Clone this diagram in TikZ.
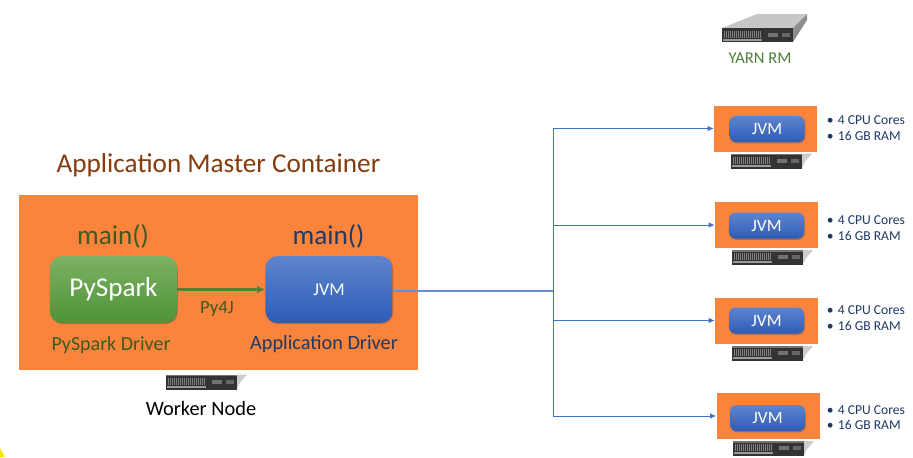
\documentclass[tikz,border=0pt]{standalone}
\usepackage{fontspec}
\setmainfont{Carlito}
\usetikzlibrary{shadows,arrows.meta}
\definecolor{orangebg}{HTML}{FB843C}
\definecolor{titlebrown}{HTML}{843C0C}
\definecolor{darkgreen}{HTML}{3F5A20}
\definecolor{midgreen}{HTML}{548235}
\definecolor{yarngreen}{HTML}{4E8038}
\definecolor{navy}{HTML}{1F3864}
\definecolor{linkblue}{HTML}{4472C4}
\definecolor{gtop}{HTML}{7CB163}
\definecolor{gbot}{HTML}{4F9338}
\definecolor{btop}{HTML}{5F84CE}
\definecolor{bbot}{HTML}{2D5CB6}
\newcommand{\pxfont}[1]{\fontsize{#1}{#1}\selectfont}
\tikzset{
  x=0.75pt,y=-0.75pt,
  bigbox/.style={rounded corners=9pt,minimum width=95.5pt,minimum height=50pt,inner sep=0pt,text=white,
     drop shadow={shadow xshift=0.5pt,shadow yshift=-1pt,opacity=0.4,fill=black!70}},
  greenbox/.style={bigbox,top color=gtop,bottom color=gbot},
  bluebox/.style={bigbox,top color=btop,bottom color=bbot},
  smallbox/.style={rounded corners=5pt,minimum width=56.5pt,minimum height=19.5pt,inner sep=0pt,text=white,
     top color=btop,bottom color=bbot,
     drop shadow={shadow xshift=0.5pt,shadow yshift=-1pt,opacity=0.4,fill=black!70},
     font=\pxfont{13}},
  lbl/.style={inner sep=0pt,anchor=center},
  specs/.style={inner sep=0pt,anchor=west,text=navy,font=\pxfont{10.2},align=left},
  link/.style={draw=linkblue,line width=0.7pt,-{Latex[length=4.5pt,width=4pt]}},
  srvfront/.style={fill=black!80,draw=none},
}
\newcommand{\srvdetail}[2]{%
  \foreach \i in {2,4,...,38}{\draw[black!50,line width=0.3pt] (#1+\i,#2+3) -- (#1+\i,#2+10);}
  \fill[black!40] (#1+1,#2+11) rectangle (#1+40,#2+13);
  \fill[black!55] (#1+46,#2+5) rectangle (#1+56,#2+9);
  \fill[black!60] (#1+60,#2+5) rectangle (#1+68,#2+9);
}
\newcommand{\srvlow}[2]{%
  \fill[black!20] (#1+71,#2) -- (#1+81,#2) -- (#1+74,#2+8) -- (#1+71,#2+14) -- cycle;
  \fill[black!55] (#1,#2) rectangle (#1+71,#2+1.5);
  \fill[srvfront] (#1,#2+1.5) rectangle (#1+71,#2+15);
  \srvdetail{#1}{#2}
}
\begin{document}
\begin{tikzpicture}
\useasboundingbox (0,0) rectangle (913,457);
\fill[white] (0,0) rectangle (913,457);
% corner mark
\fill[yellow!85!orange] (0,448) -- (5,457) -- (0,457) -- cycle;

% YARN RM server
\fill[black!22] (722,28) -- (757,14) -- (807,14) -- (793,28) -- cycle;
\fill[black!45] (793,28) -- (807,14) -- (807,20) -- (793,42) -- cycle;
\fill[srvfront] (722,28) rectangle (793,42);
\srvdetail{722}{28}
\node[lbl,text=yarngreen,font=\pxfont{12.4}] (yarn) at (760,58) {YARN RM};

% master container
\node[lbl,text=titlebrown,font=\pxfont{20.4}] (title) at (218.5,165) {Application Master Container};
\node[fill=orangebg,inner sep=0pt,minimum width=299.25pt,minimum height=131.25pt] (master) at (218.5,282.5) {};
\node[greenbox,font=\pxfont{20.4}] (pyspark) at (113.5,289.5) {PySpark};
\node[bluebox,font=\pxfont{13.5}] (jvm) at (329,289.5) {JVM};
\node[lbl,text=darkgreen,font=\pxfont{20.4}] (mainl) at (113,236.5) {main()};
\node[lbl,text=navy,font=\pxfont{20.4}] (mainr) at (328.5,236.5) {main()};
\node[lbl,text=darkgreen,font=\pxfont{15}] (pd) at (111,345) {PySpark Driver};
\node[lbl,text=navy,font=\pxfont{15.2}] (ad) at (324,344.5) {Application Driver};
\node[lbl,text=darkgreen,font=\pxfont{14}] (py4j) at (217,309) {Py4J};
\draw[draw=midgreen,line width=1.6pt,-{Latex[length=6pt,width=6pt]}] (pyspark.east) -- (jvm.west);

% worker node
\srvlow{166}{374.5}
\node[lbl,text=black,font=\pxfont{15.3}] (wn) at (201,408.5) {Worker Node};

% executors: name / orange left / orange mid y / jvm x / jvm y / server x / server y / spec y
\foreach \nm/\x/\y/\jx/\jy/\sx/\sy/\ty in {a/714/128.5/767/129/731/153.5/128,b/715/225/766.5/225.5/732/250/228,c/715/320.5/766.5/320.5/732/346/318,d/716.5/416/767.5/418/733/441/417.5}{
  \node[fill=orangebg,inner sep=0pt,minimum width=77.25pt,minimum height=34.5pt] (p\nm) at (\x+51.5,\y) {};
  \node[smallbox] (e\nm) at (\jx,\jy) {JVM};
  \node[specs] (s\nm) at (826.5,\ty) {\textbullet\hspace{0.32em}4 CPU Cores\\[1.6pt]\textbullet\hspace{0.32em}16 GB RAM};
  \srvlow{\sx}{\sy}
}

% connectors
\coordinate (hub) at (553,291);
\draw[linkblue!80,line width=1.5pt] (jvm.east) ++(0,1.5) -- (hub);
\draw[link] (hub) |- (pa.west);
\draw[link] (hub) |- (pb.west);
\draw[link] (hub) |- (pc.west);
\draw[link] (hub) |- (pd.west);
\end{tikzpicture}
\end{document}
